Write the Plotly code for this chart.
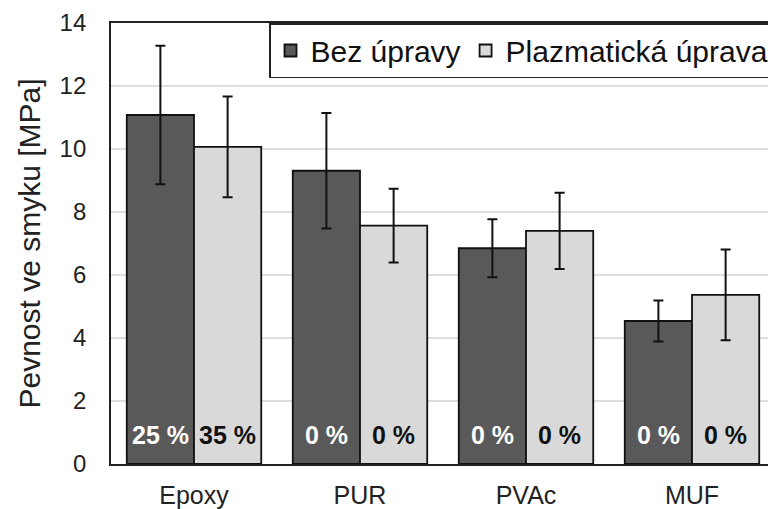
import plotly.graph_objects as go

categories = ["Epoxy", "PUR", "PVAc", "MUF"]
bez_values = [11.08, 9.31, 6.85, 4.54]
bez_errors = [2.2, 1.83, 0.92, 0.65]
bez_labels = ["25 %", "0 %", "0 %", "0 %"]
plasma_values = [10.07, 7.57, 7.40, 5.37]
plasma_errors = [1.6, 1.17, 1.21, 1.44]
plasma_labels = ["35 %", "0 %", "0 %", "0 %"]
y_ticks = [0, 2, 4, 6, 8, 10, 12, 14]

FONT = "Liberation Sans, Arial, sans-serif"
W, H = 768, 501
ML, MR, MT, MB = 103, 1, 15, 45
BARGAP = 0.19

fig = go.Figure()
fig.add_trace(go.Bar(
    name="Bez úpravy", x=categories, y=bez_values,
    marker=dict(color="#595959", line=dict(color="#111111", width=1.8)),
    error_y=dict(type="data", array=bez_errors, color="#111111", thickness=2, width=5),
))
fig.add_trace(go.Bar(
    name="Plazmatická úprava", x=categories, y=plasma_values,
    marker=dict(color="#d9d9d9", line=dict(color="#111111", width=1.8)),
    error_y=dict(type="data", array=plasma_errors, color="#111111", thickness=2, width=5),
))

# percentage labels at the bottom of each bar
plot_w = W - ML - MR
bar_w = plot_w / len(categories) * (1 - BARGAP) / 2
for cat, lab in zip(categories, bez_labels):
    fig.add_annotation(x=cat, y=0, xref="x", yref="y", text=f"<b>{lab}</b>",
                       showarrow=False, xshift=-bar_w / 2, yshift=13, yanchor="bottom",
                       font=dict(size=25, family=FONT, color="white"))
for cat, lab in zip(categories, plasma_labels):
    fig.add_annotation(x=cat, y=0, xref="x", yref="y", text=f"<b>{lab}</b>",
                       showarrow=False, xshift=bar_w / 2, yshift=13, yanchor="bottom",
                       font=dict(size=25, family=FONT, color="#111111"))

fig.update_layout(
    width=W, height=H,
    margin=dict(l=ML, r=MR, t=MT, b=MB, autoexpand=False),
    paper_bgcolor="white", plot_bgcolor="white",
    barmode="group", bargap=BARGAP, bargroupgap=0,
    font=dict(family=FONT, color="#222222"),
    showlegend=True,
    legend=dict(
        orientation="h", x=1, xanchor="right", y=1, yanchor="top",
        bordercolor="#222222", borderwidth=1.5, bgcolor="white",
        font=dict(size=30, family=FONT, color="#111111"),
        itemwidth=30, traceorder="normal",
    ),
    xaxis=dict(
        showline=True, linecolor="#222222", linewidth=1.8, mirror=True,
        tickfont=dict(size=25, family=FONT, color="#222222"),
        ticks="", showgrid=False, ticklabelstandoff=8, automargin=False,
    ),
    yaxis=dict(
        range=[0, 14], tickvals=y_ticks, ticktext=[str(v) for v in y_ticks],
        showline=True, linecolor="#222222", linewidth=1.8, mirror=True,
        showgrid=True, gridcolor="#dedede", gridwidth=1.5,
        tickfont=dict(size=24, family=FONT, color="#222222"),
        ticks="", ticklabelstandoff=18, automargin=False,
        title=dict(text="Pevnost ve smyku [MPa]", font=dict(size=30, family=FONT, color="#222222"), standoff=10),
        zeroline=False,
    ),
)

fig.write_html("out.html")
